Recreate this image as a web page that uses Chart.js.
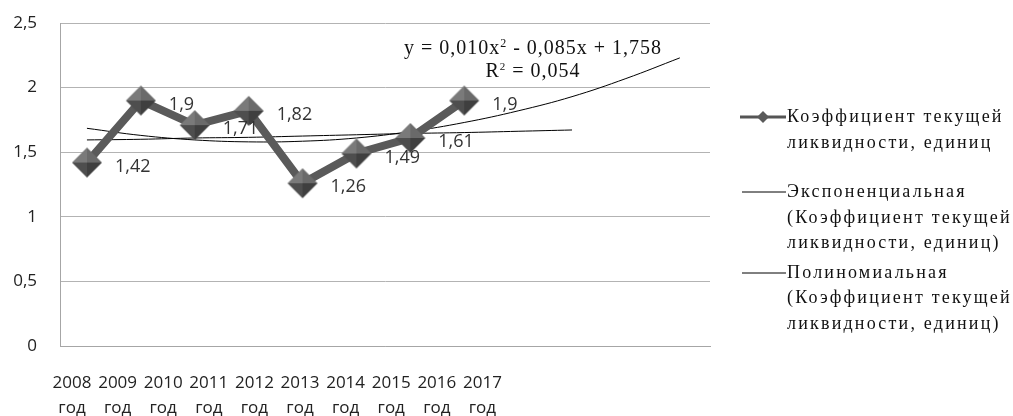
<!DOCTYPE html>
<html>
<head>
<meta charset="utf-8">
<script src="https://cdn.jsdelivr.net/npm/chart.js@4"></script>
<style>
  body { margin: 0; background: #fff; }
  #wrap { position: relative; width: 1013px; height: 416px; }
  canvas { position: absolute; left: 0; top: 0; }
  .serif { position: absolute; font-family: "Liberation Serif", "DejaVu Serif", serif; color: #111; white-space: nowrap; }
  #eq { left: 360px; top: 36px; width: 346px; text-align: center; font-size: 20px; line-height: 23px; letter-spacing: 1px; }
  #legend { left: 740px; top: 104px; font-size: 18px; line-height: 25.5px; letter-spacing: 2.2px; }
  .item { position: relative; padding-left: 47px; }
  .item svg { position: absolute; left: 0; top: 6px; }
</style>
</head>
<body>
<div id="wrap">
  <canvas id="chart" width="1013" height="416"></canvas>
  <div id="eq" class="serif">y = 0,010x<sup style="font-size:12px;vertical-align:7px;line-height:0">2</sup> - 0,085x + 1,758<br>R<sup style="font-size:11px;vertical-align:7px;line-height:0">2</sup> = 0,054</div>
  <div id="legend" class="serif"></div>
</div>
<script>
// data
const years = [2008, 2009, 2010, 2011, 2012, 2013, 2014, 2015];
const ratio = [1.42, 1.9, 1.71, 1.82, 1.26, 1.49, 1.61, 1.9];
const ratioLabels = ['1,42', '1,9', '1,71', '1,82', '1,26', '1,49', '1,61', '1,9'];

// trendlines (forecast years included)
const expYears = [2008, 2009, 2010, 2011, 2012, 2013, 2014, 2015, 2016, 2017];
const expTrend = [1.595, 1.60, 1.61, 1.615, 1.625, 1.635, 1.645, 1.652, 1.662, 1.672];
const polyYears = [2008, 2009, 2010, 2011, 2012, 2013, 2014, 2015, 2016, 2017, 2018, 2019];
const polyTrend = [1.685, 1.63, 1.595, 1.58, 1.585, 1.61, 1.66, 1.73, 1.82, 1.93, 2.07, 2.23];

const axisYears = [2008, 2009, 2010, 2011, 2012, 2013, 2014, 2015, 2016, 2017];
const yTicks = [0, 0.5, 1, 1.5, 2, 2.5];

const legendNames = [
  ['Коэффициент текущей', 'ликвидности, единиц'],
  ['Экспоненциальная', '(Коэффициент текущей', 'ликвидности, единиц)'],
  ['Полиномиальная', '(Коэффициент текущей', 'ликвидности, единиц)']
];
const legendGaps = [24, 4, 0];

// shaded diamond marker
function makeDiamond(r) {
  const c = document.createElement('canvas');
  c.width = c.height = r * 2 + 2;
  const g = c.getContext('2d');
  const m = r + 1;
  const faces = [
    [[m, m - r], [m - r, m], '#7a7a7a'],
    [[m, m - r], [m + r, m], '#6a6a6a'],
    [[m - r, m], [m, m + r], '#4e4e4e'],
    [[m + r, m], [m, m + r], '#3f3f3f']
  ];
  faces.forEach(f => {
    g.beginPath();
    g.moveTo(m, m);
    g.lineTo(f[0][0], f[0][1]);
    g.lineTo(f[1][0], f[1][1]);
    g.closePath();
    g.fillStyle = f[2];
    g.fill();
  });
  return c;
}
const diamond = makeDiamond(15);

// legend
const legend = document.getElementById('legend');
legendNames.forEach((lines, i) => {
  const d = document.createElement('div');
  d.className = 'item';
  d.style.marginBottom = legendGaps[i] + 'px';
  const sym = i === 0
    ? '<svg width="46" height="14"><line x1="0" y1="7" x2="46" y2="7" stroke="#555" stroke-width="3"/><path d="M23 1 L29 7 L23 13 L17 7 Z" fill="#5a5a5a"/></svg>'
    : '<svg width="46" height="14"><line x1="2" y1="7" x2="46" y2="7" stroke="#000" stroke-width="1"/></svg>';
  d.innerHTML = sym + lines.join('<br>');
  legend.appendChild(d);
});

const valueLabels = {
  id: 'valueLabels',
  afterDatasetsDraw(chart) {
    const ctx = chart.ctx;
    const meta = chart.getDatasetMeta(0);
    ctx.save();
    ctx.font = '18px "Open Sans", sans-serif';
    ctx.fillStyle = '#333';
    ctx.textBaseline = 'middle';
    meta.data.forEach((pt, i) => {
      ctx.fillText(ratioLabels[i], pt.x + 28, pt.y + 4);
    });
    ctx.restore();
  }
};

new Chart(document.getElementById('chart'), {
  type: 'line',
  data: {
    datasets: [
      {
        label: 'Коэффициент текущей ликвидности, единиц',
        data: years.map((y, i) => ({ x: y, y: ratio[i] })),
        borderColor: '#5a5a5a',
        borderWidth: 8,
        pointStyle: diamond,
        pointRadius: 15,
        tension: 0,
        order: 1
      },
      {
        label: 'Экспоненциальная',
        data: expYears.map((y, i) => ({ x: y, y: expTrend[i] })),
        borderColor: '#000',
        borderWidth: 1,
        pointRadius: 0,
        tension: 0.4,
        order: 2
      },
      {
        label: 'Полиномиальная',
        data: polyYears.map((y, i) => ({ x: y, y: polyTrend[i] })),
        borderColor: '#000',
        borderWidth: 1,
        pointRadius: 0,
        tension: 0.4,
        order: 2
      }
    ]
  },
  options: {
    responsive: false,
    animation: false,
    layout: { padding: { top: 19, right: 303, left: 0, bottom: 0 } },
    plugins: { legend: { display: false }, tooltip: { enabled: false } },
    scales: {
      x: {
        type: 'linear',
        display: false,
        min: 2007.5,
        max: 2019.56
      },
      xt: {
        type: 'linear',
        position: 'bottom',
        min: 2007.737,
        max: 2021.99,
        afterBuildTicks: s => { s.ticks = axisYears.map(v => ({ value: v })); },
        afterFit: s => { s.height = 70; s.paddingLeft = 0; s.paddingRight = 0; },
        grid: { display: false, drawTicks: false },
        border: { color: '#a6a6a6', width: 1 },
        ticks: {
          padding: 25,
          color: '#222',
          font: { family: 'Open Sans', size: 17, lineHeight: 1.45 },
          maxRotation: 0,
          autoSkip: false,
          callback: v => [String(v), 'год']
        }
      },
      y: {
        min: 0,
        max: 2.5,
        afterBuildTicks: s => { s.ticks = yTicks.map(v => ({ value: v })); },
        afterFit: s => { s.width = 60; s.paddingTop = 0; s.paddingBottom = 0; },
        grid: { color: '#b3b3b3', drawTicks: false },
        border: { color: '#a6a6a6' },
        ticks: {
          padding: 23,
          color: '#222',
          font: { family: 'Open Sans', size: 17 },
          callback: v => String(v).replace('.', ',')
        }
      }
    }
  },
  plugins: [valueLabels]
});
</script>
</body>
</html>
